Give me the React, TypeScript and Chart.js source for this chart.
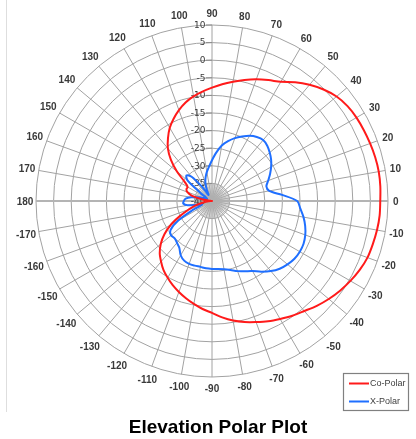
import React, { useEffect, useRef } from 'react';
import { Chart, registerables } from 'chart.js';

Chart.register(...registerables);

// Angles (degrees, counter-clockwise from the right) at 5° resolution
const ANGLES = [
  -180, -175, -170, -165, -160, -155, -150, -145, -140, -135, -130, -125,
  -120, -115, -110, -105, -100, -95, -90, -85, -80, -75, -70, -65,
  -60, -55, -50, -45, -40, -35, -30, -25, -20, -15, -10, -5,
  0, 5, 10, 15, 20, 25, 30, 35, 40, 45, 50, 55,
  60, 65, 70, 75, 80, 85, 90, 95, 100, 105, 110, 115,
  120, 125, 130, 135, 140, 145, 150, 155, 160, 165, 170, 175,
];

const CO_POLAR = [
  -40, -39, -37.5, -35, -33, -30, -26.5, -23.5, -21, -19, -17.5, -16,
  -14.8, -13.6, -12.5, -11.4, -10.3, -9.2, -8.2, -6.8, -5.5, -4.4, -3.4, -2.3,
  -1.3, -0.2, 0.8, 2.1, 3.3, 4.4, 5.4, 6.3, 7.0, 7.3, 7.6, 7.8,
  7.8, 8.0, 8.1, 8.0, 7.8, 7.6, 7.4, 7.0, 6.2, 4.8, 3.1, 1.2,
  -0.9, -2.1, -3.2, -4.4, -5.6, -6.7, -7.8, -8.8, -9.8, -11, -12.5, -14.2,
  -16, -18.2, -20.5, -23.5, -27, -30.5, -32, -32, -32.5, -34, -37, -39.5,
];

const X_POLAR = [
  -32, -31.8, -33, -36, -37, -34, -29, -25.6, -24.8, -25, -24.5, -23.8,
  -22.2, -21.3, -21, -21, -21, -20.8, -20.7, -20.6, -20.3, -19.7, -18.8, -18,
  -17, -15.5, -14, -12.8, -12, -11.4, -11.2, -11.3, -11.8, -12.6, -13.6, -14.8,
  -15.8, -20, -23.5, -24, -23, -21.8, -20.6, -19.5, -18.6, -17.8, -17.4, -17.8,
  -18.6, -19.8, -21, -22.4, -24, -26.2, -28.4, -30.2, -31.6, -33, -34.5, -36.5,
  -38, -35, -31, -29.7, -31, -36, -38, -38.5, -38, -36, -34, -32.5,
];

const SERIES_NAMES = ['Co-Polar', 'X-Polar'];
const SERIES_COLORS = ['#ff1a1a', '#1f6fff'];
const R_MIN = -40;
const R_MAX = 10;
const R_STEP = 5;
const LABEL_STEP = 10;
const TITLE = 'Elevation Polar Plot';

// Radar scale runs clockwise from the top: index i -> 90 - 5*i degrees
const STEP = 5;
const LABEL_DEGS: number[] = ANGLES.map((_, i) => {
  let d = 90 - STEP * i;
  if (d < -180) d += 360;
  return d;
});
const LABELS = LABEL_DEGS.map((d) =>
  d % LABEL_STEP === 0 ? (d === -180 ? '180' : String(d)) : ''
);
const valuesInOrder = (vals: number[]) =>
  LABEL_DEGS.map((d) => vals[ANGLES.indexOf(d)]);

const FONT = '"Liberation Sans", Arial, sans-serif';
const TICK_FONT = '"DejaVu Sans", Verdana, sans-serif';

const decorPlugin = {
  id: 'polarDecor',
  beforeDatasetsDraw(chart: any) {
    const s: any = chart.scales.r;
    const ctx: CanvasRenderingContext2D = chart.ctx;
    const xc = s.xCenter;
    const yc = s.yCenter;
    ctx.save();
    // dense spokes inside innermost ring
    const inner = s.getDistanceFromCenterForValue(R_MIN + R_STEP);
    ctx.strokeStyle = '#b0b0b0';
    ctx.lineWidth = 0.8;
    for (let i = 0; i < LABELS.length; i++) {
      const p = s.getPointPosition(i, inner);
      ctx.beginPath();
      ctx.moveTo(xc, yc);
      ctx.lineTo(p.x, p.y);
      ctx.stroke();
    }
    // radial tick marks and labels
    ctx.font = `9px ${TICK_FONT}`;
    ctx.fillStyle = '#3a3a3a';
    ctx.textAlign = 'right';
    ctx.textBaseline = 'middle';
    s.ticks.forEach((t: any) => {
      const y = yc - s.getDistanceFromCenterForValue(t.value);
      ctx.strokeStyle = '#8c8c8c';
      ctx.lineWidth = 1;
      ctx.beginPath();
      ctx.moveTo(xc - 6, y);
      ctx.lineTo(xc, y);
      ctx.stroke();
      ctx.fillText(String(t.value), xc - 6.5, y + 0.5);
    });
    // angle labels
    ctx.font = `bold 10px ${FONT}`;
    ctx.textAlign = 'center';
    ctx.fillStyle = '#3a3a3a';
    LABELS.forEach((lab, i) => {
      if (!lab) return;
      const rad = (LABEL_DEGS[i] * Math.PI) / 180;
      const w = ctx.measureText(lab).width;
      const off =
        6 + 0.6 * Math.abs(Math.cos(rad)) * (w / 2) + 5.5 * Math.abs(Math.sin(rad));
      const p = s.getPointPosition(i, s.drawingArea + off);
      ctx.fillText(lab, p.x, p.y + 1);
    });
    ctx.restore();
  },
  afterDraw(chart: any) {
    const ctx: CanvasRenderingContext2D = chart.ctx;
    ctx.save();
    ctx.strokeStyle = '#808080';
    ctx.lineWidth = 1.2;
    ctx.strokeRect(343.5, 373.5, 65, 37);
    ctx.font = `9px ${FONT}`;
    ctx.textAlign = 'left';
    ctx.textBaseline = 'middle';
    chart.data.datasets.forEach((ds: any, k: number) => {
      const y = 383.5 + k * 18;
      ctx.strokeStyle = ds.borderColor;
      ctx.lineWidth = 2;
      ctx.beginPath();
      ctx.moveTo(349, y);
      ctx.lineTo(369, y);
      ctx.stroke();
      ctx.fillStyle = '#404040';
      ctx.fillText(ds.label, 370, y);
    });
    ctx.restore();
  },
};

export default function App() {
  const ref = useRef<HTMLCanvasElement>(null);

  useEffect(() => {
    if (!ref.current) return;
    const chart = new Chart(ref.current, {
      type: 'radar',
      data: {
        labels: LABELS,
        datasets: [CO_POLAR, X_POLAR].map((vals, k) => ({
          label: SERIES_NAMES[k],
          data: valuesInOrder(vals),
          borderColor: SERIES_COLORS[k],
          backgroundColor: SERIES_COLORS[k],
          borderWidth: 2,
          pointRadius: 0,
          fill: false,
          tension: 0.3,
        })),
      },
      options: {
        animation: false,
        responsive: true,
        maintainAspectRatio: false,
        layout: { padding: { left: 36, right: 28, top: 25, bottom: 62 } },
        plugins: {
          legend: { display: false },
          tooltip: { enabled: false },
          title: { display: false },
        },
        scales: {
          r: {
            min: R_MIN,
            max: R_MAX,
            beginAtZero: false,
            ticks: { display: false, stepSize: R_STEP },
            grid: { circular: true, color: '#a2a2a2', lineWidth: 1 },
            angleLines: {
              display: true,
              color: (c: any) =>
                LABEL_DEGS[c.index] % 180 === 0 ? '#b4b4b4' : '#a2a2a2',
              lineWidth: (c: any) =>
                c.index % 2 !== 0 ? 0 : LABEL_DEGS[c.index] % 180 === 0 ? 2.2 : 1,
            },
            pointLabels: { display: false },
          },
        },
      },
      plugins: [decorPlugin],
    } as any);
    return () => chart.destroy();
  }, []);

  return (
    <div
      style={{
        position: 'fixed',
        left: 0,
        top: 0,
        width: 416,
        height: 439,
        background: '#fff',
        overflow: 'hidden',
      }}
    >
      <div
        style={{
          position: 'absolute',
          left: 6,
          top: 0,
          width: 1,
          height: 412,
          background: '#dedede',
        }}
      />
      <div style={{ position: 'absolute', left: 0, top: 0, width: 416, height: 439 }}>
        <canvas ref={ref} />
      </div>
      <div
        style={{
          position: 'absolute',
          left: 118,
          top: 416,
          width: 200,
          textAlign: 'center',
          font: `bold 19px ${FONT}`,
          lineHeight: '22px',
          color: '#000',
          whiteSpace: 'nowrap',
        }}
      >
        {TITLE}
      </div>
    </div>
  );
}
